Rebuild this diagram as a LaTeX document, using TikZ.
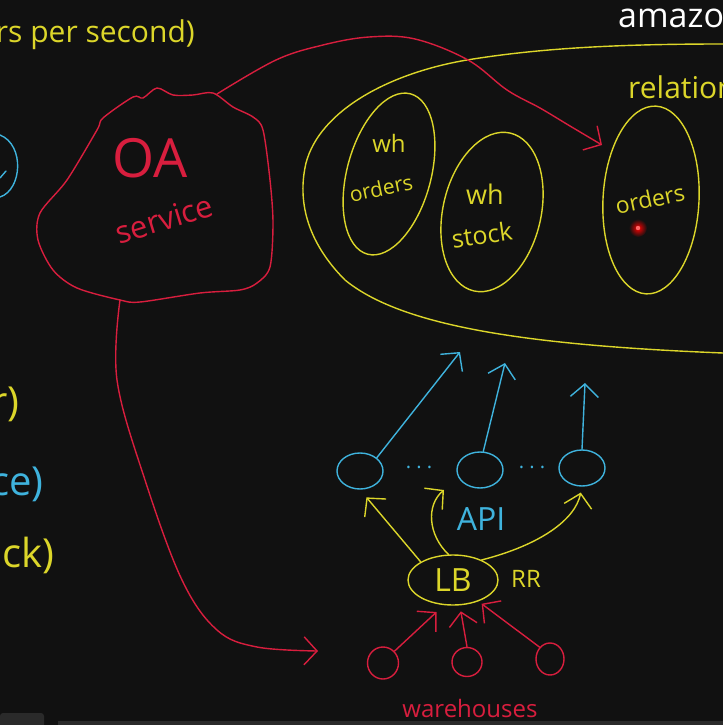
\documentclass[tikz,border=0pt]{standalone}
\usepackage{fontspec}
\setmainfont{Open Sans}
\usepackage{tikz}
\usetikzlibrary{shapes.geometric}
\usetikzlibrary{arrows.meta}
\definecolor{board}{HTML}{111111}
\definecolor{chrome}{HTML}{2A2A2A}
\definecolor{penyellow}{HTML}{DCD62A}
\definecolor{penred}{HTML}{D81E3E}
\definecolor{pencyan}{HTML}{3FB3DD}
\newcommand{\hand}[2]{\fontsize{#1}{#2}\selectfont}

\begin{document}
\begin{tikzpicture}[x=1pt,y=-1pt]

\tikzset{ink/.style = {line width=1.4pt, line cap=round, line join=round}}
\tikzset{ylw/.style = {ink, color=penyellow}}
\tikzset{rd/.style = {ink, color=penred}}
\tikzset{cyn/.style = {ink, color=pencyan}}
\tikzset{lbl/.style = {inner sep=0pt}}
\tikzset{edge/.style = {-{Straight Barb[length=13pt,width=28pt]}}}
\tikzset{db/.style = {shape=ellipse, draw, ylw, inner sep=0pt}}
\tikzset{api/.style = {shape=ellipse, draw, cyn, minimum width=46pt, minimum height=36pt, inner sep=0pt}}
\tikzset{wh/.style = {shape=ellipse, draw, rd, minimum width=31pt, minimum height=32pt, inner sep=0pt}}

\useasboundingbox (0,0) rectangle (723,725);
\fill[board] (0,0) rectangle (723,725);
\clip (0,0) rectangle (723,725);
\fill[chrome, rounded corners=3pt] (0,713) rectangle (44,732);
\fill[chrome] (58,721) rectangle (723,725);

%texts cut by the edges
\node[lbl, anchor=base east, color=penyellow, font=\hand{30}{30}] (rate) at (195,43) {ders per second)};
\node[lbl, anchor=base west, white, font=\hand{34}{34}] (brand) at (618,28) {amazon};
\node[lbl, anchor=base west, color=penyellow, font=\hand{30}{30}] (kind) at (628,98) {relational};
\node[lbl, anchor=base east, color=penyellow, font=\hand{40}{40}] (left1) at (20,415) {r)};
\node[lbl, anchor=base east, color=pencyan, font=\hand{40}{40}] (left2) at (44,495) {ce)};
\node[lbl, anchor=base east, color=penyellow, font=\hand{40}{40}] (left3) at (55,567) {ck)};
\draw[cyn] (0,135) .. controls (25,145) and (22,190) .. (0,197);
\draw[cyn] (0,178) -- (6,171);

%OA service
\draw[rd] plot[smooth cycle, tension=0.5] coordinates {(103,118) (133,97) (143,98) (157,88) (173,95) (193,95) (213,93) (233,107) (253,117) (263,130) (270,180) (273,223) (270,267) (257,283) (240,290) (200,293) (140,302) (120,300) (77,288) (53,270) (38,240) (40,213) (67,180) (97,130)};
\coordinate (oa top) at (217,94);
\coordinate (oa bottom) at (120,300);
\node[lbl, color=penred, font=\hand{54}{54}] (oa) at (150,158) {OA};
\node[lbl, color=penred, font=\hand{31}{31}, rotate=17] (svc) at (164,219) {service};

%databases
\draw[ylw] (723,44) .. controls (620,44) and (540,48) .. (467,60) .. controls (390,73) and (320,110) .. (306,163) .. controls (295,210) and (315,250) .. (345,280) .. controls (400,325) and (520,345) .. (723,353);
\node[db, minimum width=84pt, minimum height=166pt, rotate=-15] (whorders) at (389,174) {};
\node[lbl, color=penyellow, font=\hand{24}{24}] (wh1) at (389,143) {wh};
\node[lbl, color=penyellow, font=\hand{21}{21}, rotate=12] (ord1) at (381,188) {orders};
\node[db, minimum width=98pt, minimum height=162pt, rotate=-13] (whstock) at (492,212) {};
\node[lbl, color=penyellow, font=\hand{27}{27}] (wh2) at (485,194) {wh};
\node[lbl, color=penyellow, font=\hand{25}{25}, rotate=8] (stk) at (482,235) {stock};
\node[db, minimum width=96pt, minimum height=188pt, rotate=-3] (ordersdb) at (651,200) {};
\node[lbl, color=penyellow, font=\hand{23}{23}, rotate=12] (ord2) at (650,199) {orders};
\shade[inner color=red, outer color=board] (638,228) circle (9);
\fill[red!60!white] (638,228) circle (2.2);
\coordinate (rel in) at (602,145);

%API
\node[api] (api1) at (360,471) {};
\node[api] (api2) at (480,470) {};
\node[api] (api3) at (582,468) {};
\node[lbl, color=pencyan, font=\hand{20}{20}] (gap1) at (419,470) {· · ·};
\node[lbl, color=pencyan, font=\hand{20}{20}] (gap2) at (532,470) {· · ·};
\node[lbl, color=pencyan, font=\hand{32}{32}] (apilabel) at (481,519) {API};
\coordinate (up1) at (460,352);
\coordinate (up2) at (505,363);
\coordinate (up3) at (585,383);

%LB
\node[shape=ellipse, draw, ylw, minimum width=90pt, minimum height=50pt, font=\hand{32}{32}] (lb) at (453,580) {LB};
\node[lbl, color=penyellow, font=\hand{24}{24}] (rr) at (526,579) {RR};
\coordinate (api2 in) at (444,490);

%warehouses
\node[wh] (w1) at (383,663) {};
\node[wh, minimum width=30pt, minimum height=29pt] (w2) at (467,662) {};
\node[wh, minimum width=28pt, minimum height=32pt] (w3) at (550,659) {};
\node[lbl, anchor=base, color=penred, font=\hand{24}{24}] (whlabel) at (470,717) {warehouses};
\coordinate (wh in) at (318,651);

%edges
\draw[rd, edge] plot[smooth, tension=0.6] coordinates {(oa top) (276,60) (323,45) (369,37) (415,39) (468,60) (507,90) (540,108) (570,126) (rel in)};
\draw[rd, edge] plot[smooth, tension=0.6] coordinates {(oa bottom) (117,380) (145,480) (182,580) (217,630) (257,647) (wh in)};
\draw[cyn, edge] (api1.north east) -- (up1);
\draw[cyn, edge] (api2.80) -- (up2);
\draw[cyn, edge] (api3.north) -- (up3);
\draw[ylw, edge, shorten >=10pt] (lb.north west) -- (api1.south);
\draw[ylw, edge] (lb.100) .. controls (428,535) and (426,505) .. (api2 in);
\draw[ylw, edge, shorten >=6pt] (lb.35) .. controls (540,545) and (575,520) .. (api3.south);
\draw[rd, edge, shorten >=10pt] (w1.north east) -- (lb.250);
\draw[rd, edge, shorten >=6pt] (w2.north) -- (lb.285);
\draw[rd, edge, shorten >=4pt] (w3.north west) -- (lb.320);

\end{tikzpicture}
\end{document}
